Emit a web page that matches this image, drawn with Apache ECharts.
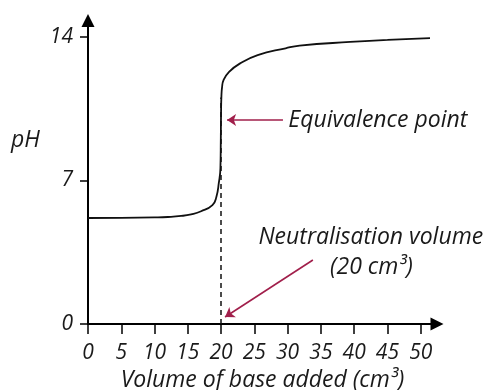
<!DOCTYPE html>
<html>
<head>
<meta charset="utf-8">
<script src="https://cdn.jsdelivr.net/npm/echarts@6/dist/echarts.min.js"></script>
<style>html,body{margin:0;padding:0;background:#fff}#c{width:486px;height:390px}</style>
</head>
<body>
<div id="c"></div>
<script>
// Titration curve readings
const volume = [0, 5, 10, 12, 14, 15.5, 17, 18.7, 19.3, 19.66, 19.9, 19.96, 20.0, 20.05, 20.15, 20.37, 21.2, 22.8, 25.5, 29.7, 31.8, 39.4, 45, 51.4];
const pH     = [5.17, 5.18, 5.2, 5.22, 5.27, 5.35, 5.5, 5.8, 6.21, 6.88, 7.6, 9.0, 10.4, 11.1, 11.55, 11.9, 12.3, 12.7, 13.12, 13.45, 13.58, 13.76, 13.86, 13.95];
const xTicks = [0, 5, 10, 15, 20, 25, 30, 35, 40, 45, 50];
const yTicks = [0, 7, 14];
const equivalenceVolume = 20;
const equivalenceTop = 11.05;
// annotation anchors [volume, pH]
const eqArrowFrom = [29.3, 9.95], eqArrowTo = [20.9, 9.95], eqTextAt = [30.1, 9.95];
const nvArrowFrom = [33.8, 3.12], nvArrowTo = [20.6, 0.34];
const nvText1At = [42.5, 4.24], nvText2At = [42.6, 2.78];

const TICKFONT = {fontFamily: 'Open Sans', fontStyle: 'italic', fontSize: 21, color: '#1a1a1a'};
const FONT = {fontFamily: 'Open Sans', fontStyle: 'italic', fontSize: 23, color: '#1a1a1a'};
const RED = '#a11f4b';

const chart = echarts.init(document.getElementById('c'), null, {renderer: 'canvas'});
chart.setOption({
  animation: false,
  grid: {left: 88, right: 49, top: 20.6, bottom: 66, containLabel: false, outerBoundsMode: 'none'},
  xAxis: {
    type: 'value', min: 0, max: 52.45,
    name: 'Volume of base added (cm³)', nameLocation: 'middle', nameGap: 43,
    nameTextStyle: Object.assign({}, FONT),
    axisLine: {show: true, symbol: ['none', 'triangle'], symbolSize: [13, 13], lineStyle: {color: '#000', width: 2}},
    axisTick: {show: true, customValues: xTicks, length: 10, lineStyle: {color: '#000', width: 1.5}},
    axisLabel: Object.assign({customValues: xTicks, margin: 19}, TICKFONT),
    splitLine: {show: false}
  },
  yAxis: {
    type: 'value', min: 0, max: 14.8,
    axisLine: {show: true, symbol: ['none', 'triangle'], symbolSize: [13, 13], lineStyle: {color: '#000', width: 2}},
    axisTick: {show: true, customValues: yTicks, length: 8, lineStyle: {color: '#000', width: 1.5}},
    axisLabel: Object.assign({customValues: yTicks, margin: 15}, TICKFONT),
    splitLine: {show: false}
  },
  graphic: [{
    type: 'text', left: 11, top: 129,
    style: {text: 'pH', font: 'italic 23px "Open Sans"', fill: '#1a1a1a'}
  }],
  series: [{
    type: 'line',
    data: volume.map((v, i) => [v, pH[i]]),
    showSymbol: false,
    smooth: 0.5,
    lineStyle: {color: '#111', width: 1.8},
    silent: true,
    markLine: {
      silent: true,
      animation: false,
      label: {show: false},
      emphasis: {disabled: true},
      symbol: ['none', 'arrow'],
      symbolSize: 9,
      data: [
        [{coord: [equivalenceVolume, 0], symbol: 'none', lineStyle: {type: [5, 4], color: '#111', width: 1.5}},
         {coord: [equivalenceVolume, equivalenceTop], symbol: 'none'}],
        [{coord: eqArrowFrom, lineStyle: {color: RED, width: 1.6, type: 'solid'}}, {coord: eqArrowTo}],
        [{coord: nvArrowFrom, lineStyle: {color: RED, width: 1.6, type: 'solid'}}, {coord: nvArrowTo}]
      ]
    },
    markPoint: {
      silent: true,
      symbol: 'circle',
      symbolSize: 0,
      data: [
        {coord: eqTextAt, label: Object.assign({show: true, position: 'right', distance: 0, formatter: 'Equivalence point'}, FONT)},
        {coord: nvText1At, label: Object.assign({show: true, position: 'inside', formatter: 'Neutralisation volume'}, FONT)},
        {coord: nvText2At, label: Object.assign({show: true, position: 'inside', formatter: '(20 cm³)'}, FONT)}
      ]
    }
  }]
});
</script>
</body>
</html>
